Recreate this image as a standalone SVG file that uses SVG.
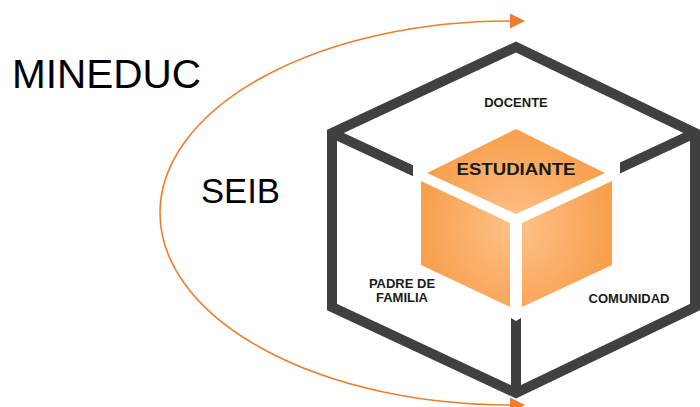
<svg xmlns="http://www.w3.org/2000/svg" width="700" height="407" viewBox="0 0 700 407">
  <style>
    .big { font-family: "Liberation Sans", Arial, sans-serif; fill: #000; }
    .lbl { font-family: "Liberation Sans", Arial, sans-serif; font-weight: bold; fill: #1a1a1a; text-anchor: middle; }
    .frame { fill: none; stroke: #404040; stroke-width: 10; stroke-linejoin: miter; }
    .bar { fill: #404040; }
    .face { fill: url(#og); }
  </style>
  <defs>
    <radialGradient id="og" gradientUnits="userSpaceOnUse" cx="516" cy="228" r="115">
      <stop offset="0" stop-color="#FEC28B"/>
      <stop offset="1" stop-color="#F79A42"/>
    </radialGradient>
    <marker id="arr" markerUnits="userSpaceOnUse" markerWidth="16" markerHeight="16" refX="0" refY="7.5" orient="auto-start-reverse">
      <path d="M0,0 L15,7.5 L0,15 Z" fill="#ED7D31"/>
    </marker>
  </defs>

  <g id="connectors">
    <path d="M 510 405 A 350 192 0 0 1 510 21" fill="none" stroke="#ED7D31" stroke-width="1.6" marker-start="url(#arr)" marker-end="url(#arr)"/>
  </g>

  <g id="mineduc">
    <text class="big" x="12" y="88" font-size="41" textLength="189" lengthAdjust="spacingAndGlyphs">MINEDUC</text>
  </g>
  <g id="seib">
    <text class="big" x="201" y="203" font-size="35" textLength="79" lengthAdjust="spacingAndGlyphs">SEIB</text>
  </g>

  <g id="outer-cube">
    <path class="frame" d="M 332 133 L 516 47 L 695 133 L 695 307 L 516 393 L 332 307 Z"/>
    <polygon class="bar" points="332,127.5 413,165.3 413,176.3 332,138.5"/>
    <polygon class="bar" points="695,127.5 620,162.5 620,173.5 695,138.5"/>
    <polygon class="bar" points="511,393 511,318 516,321 521,318 521,393"/>
  </g>

  <g id="docente">
    <text class="lbl" x="516" y="107" font-size="13">DOCENTE</text>
  </g>
  <g id="padre-de-familia">
    <text class="lbl" x="402" y="288" font-size="13">PADRE DE</text>
    <text class="lbl" x="402" y="302" font-size="13">FAMILIA</text>
  </g>
  <g id="comunidad">
    <text class="lbl" x="629" y="303" font-size="13">COMUNIDAD</text>
  </g>

  <g id="estudiante">
    <polygon class="face" points="516,129 605,173 516,214 427,173"/>
    <polygon class="face" points="421,181 510,223 510,307 421,265"/>
    <polygon class="face" points="522,223 612,181 612,265 522,307"/>
    <text class="lbl" x="516" y="175" font-size="17" textLength="119" lengthAdjust="spacingAndGlyphs">ESTUDIANTE</text>
  </g>
</svg>
